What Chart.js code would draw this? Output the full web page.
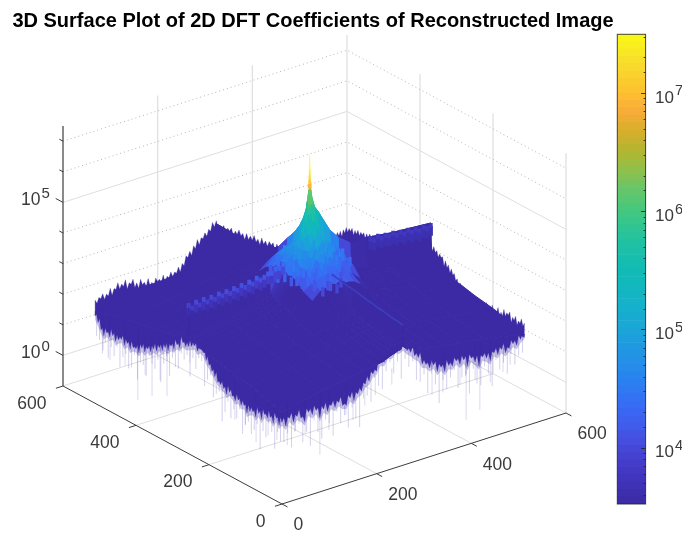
<!DOCTYPE html>
<html>
<head>
<meta charset="utf-8">
<title>3D Surface Plot of 2D DFT Coefficients</title>
<script src="https://cdn.jsdelivr.net/npm/chart.js@4"></script>
<style>
  html, body { margin: 0; background: #fff; }
  #wrap { position: relative; width: 682px; height: 533px; overflow: hidden; }
  canvas { position: absolute; top: 0; }
  #surface { left: 0; }
  #colorbar { left: 610px; }
</style>
</head>
<body>
<div id="wrap">
  <canvas id="surface" width="626" height="533"></canvas>
  <canvas id="colorbar" width="72" height="533"></canvas>
</div>
<script>
// ---- data (heights are log10 of the coefficient) ----
const axisTicks = [0, 200, 400, 600];
const zMajor = [0, 5];
const zMinor = [1, 2, 3, 4, 6, 7];
const colorbarDecades = [4, 5, 6, 7];

const gridCoord = [0, 86, 136, 171, 196, 214, 228, 238, 246, 251, 254, 256, 258, 261, 266, 274, 284, 298, 316, 341, 376, 426, 512];

// rows run along y, columns along x
const surfaceLog = [
  [2.0,2.3,2.4,2.5,2.55,2.6,2.7,2.75,2.8,2.8,2.9,3.57,2.9,2.8,2.8,2.75,2.7,2.6,2.55,2.5,2.4,2.3,2.0],
  [2.3,2.5,2.6,2.7,2.75,2.8,2.85,2.9,2.95,3.0,3.0,3.74,3.0,3.0,2.95,2.9,2.85,2.8,2.75,2.7,2.6,2.5,2.3],
  [2.4,2.6,2.7,2.8,2.9,2.95,3.0,3.05,3.1,3.15,3.2,3.88,3.2,3.15,3.1,3.05,3.0,2.95,2.9,2.8,2.7,2.6,2.4],
  [2.5,2.7,2.8,2.9,3.55,3.8,3.85,3.9,3.85,3.9,3.85,3.97,3.9,3.85,3.8,3.8,3.75,3.6,3.3,2.9,2.8,2.7,2.5],
  [2.55,2.75,2.9,3.1,3.7,3.85,3.95,4.05,3.95,4.15,4.05,4.25,4.1,4.0,4.1,3.9,4.0,3.8,3.55,3.1,2.9,2.75,2.55],
  [2.6,2.8,2.95,3.2,3.9,4.2,4.15,4.4,4.2,4.5,4.3,4.45,4.4,4.3,4.4,4.2,4.3,4.1,3.85,3.2,2.95,2.8,2.6],
  [2.7,2.85,3.0,3.25,4.0,4.2,4.5,4.35,4.6,4.4,4.7,4.65,4.6,4.55,4.4,4.5,4.35,4.3,3.9,3.25,3.0,2.85,2.7],
  [2.75,2.9,3.05,3.3,3.95,4.4,4.35,4.55,4.5,4.8,4.85,4.95,4.95,4.7,4.7,4.45,4.5,4.25,4.05,3.3,3.05,2.9,2.75],
  [2.8,2.95,3.1,3.35,4.1,4.25,4.6,4.5,4.95,5.0,5.2,5.4,5.2,5.05,4.85,4.65,4.4,4.4,4.0,3.35,3.1,2.95,2.8],
  [2.8,3.0,3.15,3.4,4.05,4.45,4.4,4.75,4.95,5.3,5.6,5.9,5.6,5.35,5.0,4.65,4.55,4.35,4.15,3.4,3.15,3.0,2.8],
  [2.9,3.0,3.2,3.4,4.15,4.35,4.65,4.85,5.2,5.6,5.9,6.3,5.9,5.6,5.2,4.9,4.55,4.45,4.05,3.4,3.2,3.0,2.9],
  [3.87,3.87,3.97,4.16,4.3,4.5,4.7,5.0,5.4,6.0,6.35,6.4,6.35,6.05,5.75,5.55,5.25,4.84,4.5,4.2,4.2,4.1,4.0],
  [2.9,3.0,3.2,3.4,4.1,4.4,4.6,4.9,5.2,5.6,5.9,6.3,5.9,5.6,5.2,4.9,4.6,4.4,4.1,3.4,3.2,3.0,2.9],
  [2.8,3.0,3.15,3.4,4.1,4.4,4.5,4.7,5.0,5.3,5.6,6.0,5.6,5.3,5.0,4.7,4.5,4.4,4.1,3.4,3.15,3.0,2.8],
  [2.8,2.95,3.1,3.35,4.05,4.35,4.5,4.6,4.9,5.0,5.2,5.65,5.2,5.0,4.9,4.6,4.5,4.35,4.05,3.35,3.1,2.95,2.8],
  [2.75,2.9,3.05,3.3,4.0,4.3,4.45,4.5,4.6,4.7,4.9,5.3,4.9,4.7,4.6,4.5,4.45,4.3,4.0,3.3,3.05,2.9,2.75],
  [2.7,2.85,3.0,3.25,3.95,4.25,4.4,4.45,4.5,4.5,4.6,5.0,4.6,4.5,4.5,4.45,4.4,4.25,3.95,3.25,3.0,2.85,2.7],
  [2.6,2.8,2.95,3.2,3.85,4.15,4.25,4.3,4.35,4.4,4.4,4.7,4.4,4.4,4.35,4.3,4.25,4.15,3.85,3.2,2.95,2.8,2.6],
  [2.55,2.75,2.9,3.1,3.6,3.85,3.95,4.0,4.05,4.1,4.1,4.4,4.1,4.1,4.05,4.0,3.95,3.85,3.6,3.1,2.9,2.75,2.55],
  [2.5,2.7,2.8,2.9,3.1,3.2,3.25,3.3,3.35,3.4,3.4,3.95,3.4,3.4,3.35,3.3,3.25,3.2,3.1,2.9,2.8,2.7,2.5],
  [2.4,2.6,2.7,2.8,2.9,2.95,3.0,3.05,3.1,3.15,3.2,3.6,3.2,3.15,3.1,3.05,3.0,2.95,2.9,2.8,2.7,2.6,2.3],
  [2.3,2.5,2.6,2.7,2.75,2.8,2.85,2.9,2.95,3.0,3.0,3.55,3.0,3.0,2.95,2.9,2.85,2.8,2.75,2.7,2.6,2.5,2.2],
  [2.0,2.3,2.3,2.35,2.4,2.5,2.6,2.7,2.8,2.9,3.0,3.6,3.0,2.9,2.8,2.7,2.5,2.4,2.3,2.2,2.1,2.0,1.9]
];

// edge envelopes, one value every 8 samples from 0 to 512
const edgeStep = 8;
const backHiY512 = [2.37,2.42,2.5,2.45,2.6,2.55,2.7,2.62,2.72,2.58,2.66,2.5,2.58,2.44,2.52,2.36,2.46,2.38,2.48,2.4,2.5,2.46,2.58,2.66,2.86,2.98,3.12,3.28,3.3,3.42,3.5,3.68,3.7,3.5,3.46,3.34,3.3,3.16,3.16,3.0,2.96,2.84,2.82,2.66,2.66,2.52,2.46,2.38,2.3,2.22,2.2,2.14,2.14,2.08,2.1,2.04,2.06,2.0,2.04,2.0,2.04,1.98,2.06,2.0,2.04];
const backHiX512 = [2.37,2.46,2.34,2.44,2.36,2.48,2.4,2.46,2.32,2.42,2.3,2.4,2.28,2.38,2.3,2.36,2.32,2.4,2.36,2.44,2.4,2.46,2.56,2.64,2.76,2.86,2.94,3.02,3.1,3.14,3.2,3.28,3.4,3.3,3.26,3.16,3.14,3.04,3.0,2.96,2.94,2.86,2.84,2.78,2.76,2.72,2.7,2.66,2.66,2.6,2.6,2.58,2.56,2.56,2.52,2.5,2.46,2.48,2.42,2.44,2.38,2.36,2.24,2.14,2.04];
const frontLoY0 = [1.68,1.5,1.72,1.55,1.7,1.6,1.45,1.72,1.6,1.7,1.42,1.66,1.55,1.7,1.6,1.72,1.58,1.55,1.75,1.62,1.8,1.85,2.05,2.1,2.3,2.35,2.6,2.55,2.75,2.7,2.85,2.8,2.86,2.7,2.6,2.45,2.35,2.1,2.05,1.9,1.95,1.7,1.8,1.62,1.78,1.72,1.85,1.7,1.8,1.55,1.78,1.62,1.45,1.7,1.62,1.5,1.72,1.62,1.75,1.6,1.7,1.82,1.72,1.88,1.97];
const frontLoX0 = [1.68,1.52,1.7,1.48,1.62,1.55,1.62,1.4,1.55,1.38,1.5,1.45,1.35,1.55,1.5,1.62,1.55,1.65,1.72,1.6,1.75,1.82,1.85,1.98,2.1,2.25,2.35,2.55,2.6,2.5,2.62,2.55,2.5,2.45,2.52,2.3,2.35,2.15,2.2,2.0,2.05,1.9,1.95,1.78,1.8,1.65,1.7,1.55,1.62,1.42,1.5,1.48,1.38,1.52,1.4,1.55,1.48,1.38,1.52,1.42,1.5,1.36,1.5,1.68,1.85];
// notch depth between two edge samples, and depth of the fine hairs under the rims
const rimNotch = [0.12,0.06,0.16,0.08,0.2,0.05,0.14,0.1,0.18,0.07,0.13,0.2,0.06,0.15,0.09,0.17,0.05,0.12,0.19,0.08,0.14,0.06,0.18,0.1,0.07,0.16,0.12,0.2,0.05,0.13,0.09,0.17,0.11,0.06,0.19,0.08,0.15,0.12,0.05,0.18,0.1,0.14,0.07,0.2,0.09,0.13,0.06,0.17,0.11,0.15,0.05,0.19,0.08,0.12,0.16,0.06,0.14,0.1,0.18,0.07,0.13,0.09,0.16,0.08];
const hairDepth = [0.5,0.25,0.8,0.3,0.15,0.65,0.35,1.0,0.2,0.45,0.7,0.25,0.4,0.9,0.15,0.55,0.3,0.75,0.2,0.6,1.1,0.25,0.4,0.7,0.15,0.5,0.85,0.3,0.2,0.6,0.35,0.95,0.25,0.45,0.15,0.7,0.55,0.3,0.8,0.2,0.4,1.05,0.25,0.6,0.35,0.15,0.75,0.45,0.3,0.9,0.2,0.55,0.65,0.25,0.4,0.85,0.15,0.5,0.3,0.7,0.2,0.6,0.35,0.45];

// long downward spikes under the two front edges
const spikeX0At = [490,471,430,395,356,315,375,334,252,184,164,129,101,71,38,14];
const spikeX0Low = [0.88,0.67,0.76,-0.15,0.24,0.5,0.8,0.9,2.0,1.7,1.6,0.93,0.93,0.57,1.0,1.0];
const spikeY0At = [11,27,49,80,99,135,150,175,197,232,317,340,389,418,440,467,482,376,408];
const spikeY0Low = [0.87,1.22,1.06,0.21,0.93,1.24,1.0,1.35,1.58,1.75,1.0,0.96,-0.18,0,0.8,1.0,1.16,1.03,1.03];

// comb of lighter teeth along the arms of the cross
const armFrontHi = [3.92,3.8,3.95,3.82,3.96,3.84,3.95,3.85,3.98,3.88,3.98,3.88,4.0,3.9,4.02,3.92,4.05,3.95,4.1,4.0,4.05,4.12,4.1,4.2,4.18,4.28];
const armBackHi = [4.2,4.12,4.2,4.1,4.16,4.08,4.14,4.04,4.1,4.0,4.08,3.98,4.04,3.94,4.02,3.94,4.0];
const armRightHi = [3.57,3.6,3.62,3.65,3.68,3.7,3.74,3.76,3.8,3.84,3.86,3.88,3.92,3.95,3.98];

// noisy vertical streaks in the bright patch round the centre
const streakX = [196,211,226, 186,201,216,231,244, 181,198,212,226,238,250,264,276,290,306, 188,206,218,232,244,256,266,280,294,310, 194,208,222,234,248,262,274,288,302,316, 198,212,226,240,252,268,282,296,310, 202,216,228,242,258,272,286,300, 206,220,234,248,262,276,290, 212,226,240,254,268, 222,238,252];
const streakY = [286,286,286, 271,271,271,271,271, 246,246,246,246,246,246,246,246,246,246, 236,236,236,236,236,236,236,236,236,236, 226,226,226,226,226,226,226,226,226,226, 216,216,216,216,216,216,216,216,216, 206,206,206,206,206,206,206,206, 196,196,196,196,196,196,196, 186,186,186,186,186, 176,176,176];
const streakLog = [4.0,4.3,4.5, 3.95,4.25,4.4,4.55,4.8, 4.05,4.3,4.2,4.6,4.5,5.0,4.9,4.55,4.5,4.2, 4.1,4.35,4.15,4.5,4.65,4.9,4.6,4.45,4.25,4.3, 4.0,4.3,4.45,4.25,4.6,4.4,4.55,4.2,4.3,4.05, 4.05,4.25,4.4,4.15,4.5,4.3,4.35,4.05,4.15, 4.0,4.3,4.1,4.35,4.2,4.3,4.0,4.1, 4.15,3.95,4.25,4.05,4.2,3.95,4.05, 4.0,4.1,3.9,4.05,3.85, 3.85,3.95,3.8];

// central spike above the grid
const peakLevels = [6.4,6.55,6.7,6.85,7.0,7.15,7.3,7.4,7.5];
const peakHalfWidth = [2.4,1.8,1.3,1.0,0.7,0.5,0.35,0.2,0.1];

const colorLogMin = 3.524;
const colorLogMax = 7.496;
const colorStops = [
  [0, '#3b2aa3'], [0.072, '#4238c4'], [0.119, '#4648d8'], [0.157, '#4258e8'], [0.2, '#3a68f5'],
  [0.264, '#2a82f0'], [0.328, '#2098e2'], [0.372, '#1ba5d8'], [0.434, '#14b4c8'], [0.498, '#10bcb5'],
  [0.562, '#22c2a0'], [0.621, '#42c880'], [0.668, '#66c66a'], [0.711, '#90c04a'], [0.753, '#b4b52f'],
  [0.796, '#d9ae2c'], [0.838, '#fbad3a'], [0.874, '#fdc030'], [0.945, '#f8e02a'], [1, '#f9f815']
];

// ---- view of the MATLAB axes ----
const DARK = '#3b2aa3';
const FONT = '"Liberation Sans", Arial, sans-serif';
const TEXT = '#3a3a3a';

function projX(x, y) {
  return 282 + x * 284 / 600 - y * 219 / 600;
}
function projY(x, y, l) {
  return 504 - x * 91 / 600 - y * 118 / 600 - (l + 1) * 30.6;
}
function P(x, y, l) {
  return { x: projX(x, y), y: projY(x, y, l) };
}
const GAP = { x: NaN, y: NaN };

function hexToRgb(h) {
  return [parseInt(h.slice(1, 3), 16), parseInt(h.slice(3, 5), 16), parseInt(h.slice(5, 7), 16)];
}
function colorAt(frac) {
  const f = Math.max(0, Math.min(1, frac));
  for (let i = 1; i < colorStops.length; i++) {
    if (f <= colorStops[i][0]) {
      const a = colorStops[i - 1], b = colorStops[i];
      const t = (f - a[0]) / (b[0] - a[0]);
      const ca = hexToRgb(a[1]), cb = hexToRgb(b[1]);
      return 'rgb(' + ca.map((v, k) => Math.round(v + (cb[k] - v) * t)).join(',') + ')';
    }
  }
  return colorStops[colorStops.length - 1][1];
}
function colorForLog(l) {
  return colorAt((l - colorLogMin) / (colorLogMax - colorLogMin));
}

const datasets = [];

function addLine(points, color, width, dash) {
  datasets.push({
    data: points,
    showLine: true,
    fill: false,
    borderColor: color,
    borderWidth: width,
    borderDash: dash || [4000],
    pointRadius: 0,
    spanGaps: false
  });
}
function addShape(points, color, edge) {
  datasets.push({
    data: points.concat([points[0]]),
    showLine: true,
    fill: 'shape',
    backgroundColor: color,
    borderColor: color,
    borderWidth: edge,
    borderDash: [4000],
    pointRadius: 0
  });
}

// back walls and floor
const gridColor = '#dedede';
const dotColor = '#b4b4b4';
addLine([P(0, 600, -1), P(600, 600, -1), P(600, 0, -1)], gridColor, 1);
axisTicks.slice(1, 3).forEach((t) => {
  addLine([P(t, 0, -1), P(t, 600, -1)], gridColor, 1);
  addLine([P(0, t, -1), P(600, t, -1)], gridColor, 1);
});
axisTicks.slice(1).forEach((t) => {
  addLine([P(t, 600, -1), P(t, 600, 7.5)], gridColor, 1.2);
});
axisTicks.slice(0, 3).forEach((t) => {
  addLine([P(600, t, -1), P(600, t, 7.5)], gridColor, 1.2);
});
zMajor.forEach((l) => {
  addLine([P(0, 600, l), P(600, 600, l), P(600, 0, l)], gridColor, 1);
});
zMinor.forEach((l) => {
  addLine([P(0, 600, l), P(600, 600, l), P(600, 0, l)], dotColor, 1, [1, 3]);
});

// box axes
const axisColor = '#3c3c3c';
addLine([P(0, 600, -1), P(0, 0, -1), P(600, 0, -1)], axisColor, 1);
addLine([P(0, 600, -1), P(0, 600, 7.5)], axisColor, 1.2);
const tickMarks = [];
axisTicks.forEach((t) => {
  tickMarks.push(P(t, 0, -1), P(t, -15, -1), GAP);
  tickMarks.push(P(0, t, -1), P(-15, t, -1), GAP);
});
zMajor.forEach((l) => tickMarks.push(P(0, 600, l), P(0, 620, l), GAP));
zMinor.forEach((l) => tickMarks.push(P(0, 600, l), P(0, 610, l), GAP));
addLine(tickMarks, axisColor, 1);

// envelope with a notch between neighbouring samples, so the rim looks torn
function jagged(values, pos, sign) {
  const pts = [];
  values.forEach((l, i) => {
    pts.push(pos(i * edgeStep, l));
    if (i < values.length - 1) {
      const mid = sign > 0 ? Math.min(l, values[i + 1]) - rimNotch[i] : Math.max(l, values[i + 1]) + rimNotch[i];
      pts.push(pos(i * edgeStep + edgeStep / 2, mid));
    }
  });
  return pts;
}

// back rims of the surface, behind the grid
function addBackRim(values, pos) {
  const under = values.map((l, i) => pos(i * edgeStep, 1.9)).reverse();
  addShape(jagged(values, pos, 1).concat(under), DARK, 0.3);
}
addBackRim(backHiY512, (s, l) => P(s, 512, l));
addBackRim(backHiX512, (s, l) => P(512, s, l));

// surface cells, far ones first
for (let r = gridCoord.length - 2; r >= 0; r--) {
  for (let c = gridCoord.length - 2; c >= 0; c--) {
    const x0 = gridCoord[c], x1 = gridCoord[c + 1];
    const y0 = gridCoord[r], y1 = gridCoord[r + 1];
    const a = surfaceLog[r][c], b = surfaceLog[r][c + 1];
    const d = surfaceLog[r + 1][c], e = surfaceLog[r + 1][c + 1];
    let level = 0.7 * Math.min(a, b, d, e) + 0.3 * (a + b + d + e) / 4 + 0.2;
    // the bright patch reads lighter than its height alone gives
    if (level > 3.75) level += 0.2;
    addShape([P(x0, y0, a), P(x1, y0, b), P(x1, y1, e), P(x0, y1, d)], colorForLog(level), 1);
  }
}

// streaks of the bright patch, already listed far to near
streakLog.forEach((l, i) => {
  addLine([P(streakX[i], streakY[i], l), P(streakX[i], streakY[i], l - 0.3)], colorForLog(l + 0.15), 3.4);
});

// the thin spike at the centre
for (let i = 0; i < peakLevels.length - 1; i++) {
  const w0 = peakHalfWidth[i], w1 = peakHalfWidth[i + 1];
  addShape([
    P(256 + w0, 256 - w0, peakLevels[i]), P(256 + w1, 256 - w1, peakLevels[i + 1]),
    P(256 - w1, 256 + w1, peakLevels[i + 1]), P(256 - w0, 256 + w0, peakLevels[i])
  ], colorForLog((peakLevels[i] + peakLevels[i + 1]) / 2 + 0.45), 0.2);
}

// teeth on the arms: bright tips over a darker root
armFrontHi.forEach((l, i) => {
  addLine([P(i * 8, 256, l - 0.1), P(i * 8, 256, l - 0.42)], colorForLog(l - 0.25), 4);
  addLine([P(i * 8, 256, l), P(i * 8, 256, l - 0.16)], colorForLog(l + 0.05), 3.8);
});
const backRoot = [], backTip = [];
armBackHi.forEach((l, i) => {
  backRoot.push(P(384 + i * 8, 256, l - 0.1), P(384 + i * 8, 256, l - 0.42), GAP);
  backTip.push(P(384 + i * 8, 256, l), P(384 + i * 8, 256, l - 0.16), GAP);
});
addLine(backRoot, '#3d30b0', 4);
addLine(backTip, '#4038c0', 3.6);
addLine(armRightHi.map((l, i) => P(256, i * 14, l)), '#3f3ec0', 1.6);

// front rims: from the lower envelope up to the grid edge, with a soft fuzz under them
function addFrontRim(values, pos, gridEdge) {
  const upper = gridCoord.map((s, i) => pos(s, gridEdge(i))).reverse();
  const fuzz = values.map((l, i) => pos(i * edgeStep, l - 0.12));
  addShape(fuzz.concat(upper), 'rgba(59,42,165,0.28)', 0);
  addShape(jagged(values, pos, -1).concat(upper), DARK, 0.3);
}
addFrontRim(frontLoY0, (s, l) => P(s, 0, l), (i) => surfaceLog[0][i]);
addFrontRim(frontLoX0, (s, l) => P(0, s, l), (i) => surfaceLog[i][0]);

// hairs and long spikes
const hairs = [];
function addHairs(values, pos) {
  for (let i = 0; i < values.length - 1; i++) {
    const low = Math.min(values[i], values[i + 1]);
    hairs.push(pos(i * edgeStep + 4, low + 0.2), pos(i * edgeStep + 4, low - hairDepth[i]), GAP);
  }
}
addHairs(frontLoY0, (s, l) => P(s, 0, l));
addHairs(frontLoX0, (s, l) => P(0, s, l));
addLine(hairs, 'rgba(59,42,165,0.22)', 1);

const spikeFar = [], spikeNear = [];
spikeX0At.forEach((s, i) => {
  spikeFar.push(P(0, s, 2.2), P(0, s, spikeX0Low[i]), GAP);
  spikeNear.push(P(0, s, 2.2), P(0, s, (2.2 + spikeX0Low[i]) / 2 + 0.3), GAP);
});
spikeY0At.forEach((s, i) => {
  spikeFar.push(P(s, 0, 2.2), P(s, 0, spikeY0Low[i]), GAP);
  spikeNear.push(P(s, 0, 2.2), P(s, 0, (2.2 + spikeY0Low[i]) / 2 + 0.3), GAP);
});
addLine(spikeFar, 'rgba(59,42,165,0.18)', 1);
addLine(spikeNear, 'rgba(59,42,165,0.25)', 1);

// Chart.js paints the first dataset on top
datasets.reverse();

function drawPower(ctx, x, y, exp, size) {
  ctx.textAlign = 'left';
  ctx.textBaseline = 'middle';
  ctx.fillStyle = TEXT;
  ctx.font = size + 'px ' + FONT;
  ctx.fillText('10', x, y);
  const w = ctx.measureText('10').width;
  ctx.font = (size - 2.5) + 'px ' + FONT;
  ctx.fillText(String(exp), x + w + 1, y - 6.5);
}

const axisLabels = {
  id: 'axisLabels',
  afterDatasetsDraw(chart) {
    const { ctx, scales } = chart;
    ctx.save();
    ctx.fillStyle = TEXT;
    ctx.font = '17.5px ' + FONT;
    ctx.textBaseline = 'middle';
    axisTicks.forEach((t) => {
      const label = String(t);
      ctx.textAlign = 'left';
      ctx.fillText(label, scales.x.getPixelForValue(projX(t, 0)) + 11.5, scales.y.getPixelForValue(projY(t, 0, -1)) + 21.5);
      ctx.textAlign = 'right';
      ctx.fillText(label, scales.x.getPixelForValue(projX(0, t)) - 16.5, scales.y.getPixelForValue(projY(0, t, -1)) + 18);
    });
    zMajor.forEach((l) => {
      drawPower(ctx, 21, scales.y.getPixelForValue(projY(0, 600, l)) - 2, l, 17.5);
    });
    ctx.restore();
  }
};

new Chart(document.getElementById('surface'), {
  type: 'scatter',
  data: { datasets },
  options: {
    responsive: false,
    animation: false,
    layout: { padding: 0 },
    events: [],
    scales: {
      x: { type: 'linear', min: 0, max: 626, display: false },
      y: { type: 'linear', min: 34, max: 533, reverse: true, display: false }
    },
    plugins: {
      legend: { display: false },
      tooltip: { enabled: false },
      title: {
        display: true,
        text: '3D Surface Plot of 2D DFT Coefficients of Reconstructed Image',
        color: '#000',
        font: { family: FONT, size: 20, weight: 'bold', lineHeight: 1.2 },
        padding: { top: 9, bottom: 1 }
      }
    }
  },
  plugins: [axisLabels]
});

// ---- colorbar on a real log axis ----
const stripCount = 64;
const stripSets = [];
for (let i = 0; i < stripCount; i++) {
  const lo = colorLogMin + (colorLogMax - colorLogMin) * i / stripCount;
  const hi = colorLogMin + (colorLogMax - colorLogMin) * (i + 1) / stripCount;
  stripSets.push({
    data: [[Math.pow(10, lo), Math.pow(10, hi)]],
    backgroundColor: colorAt((i + 0.5) / stripCount),
    barPercentage: 1,
    categoryPercentage: 1,
    grouped: false
  });
}

const colorbarFrame = {
  id: 'colorbarFrame',
  afterDraw(chart) {
    const { ctx, chartArea: a, scales } = chart;
    ctx.save();
    ctx.strokeStyle = 'rgba(35,35,35,0.85)';
    ctx.lineWidth = 1;
    ctx.strokeRect(a.left, a.top, a.right - a.left, a.bottom - a.top);
    // ticks point inwards from the right edge
    scales.y.ticks.forEach((t) => {
      const lg = Math.log10(t.value);
      if (lg <= colorLogMin + 0.001 || lg >= colorLogMax - 0.001) return;
      const major = Math.abs(lg - Math.round(lg)) < 0.001;
      const y = Math.round(scales.y.getPixelForValue(t.value)) + 0.5;
      ctx.beginPath();
      ctx.moveTo(a.right, y);
      ctx.lineTo(a.right - (major ? 4.5 : 2), y);
      ctx.stroke();
    });
    colorbarDecades.forEach((d) => {
      drawPower(ctx, 45, scales.y.getPixelForValue(Math.pow(10, d)) + 5, d, 17);
    });
    ctx.restore();
  }
};

new Chart(document.getElementById('colorbar'), {
  type: 'bar',
  data: { labels: ['c'], datasets: stripSets },
  options: {
    responsive: false,
    animation: false,
    events: [],
    layout: { padding: { left: 7.3, top: 34.3, bottom: 29, right: 0 } },
    scales: {
      x: { display: false },
      y: {
        type: 'logarithmic',
        position: 'right',
        min: Math.pow(10, colorLogMin),
        max: Math.pow(10, colorLogMax),
        ticks: { display: false, autoSkip: false },
        grid: { display: false },
        border: { display: false },
        afterFit(scale) { scale.width = 36.4; }
      }
    },
    plugins: { legend: { display: false }, tooltip: { enabled: false } }
  },
  plugins: [colorbarFrame]
});
</script>
</body>
</html>
